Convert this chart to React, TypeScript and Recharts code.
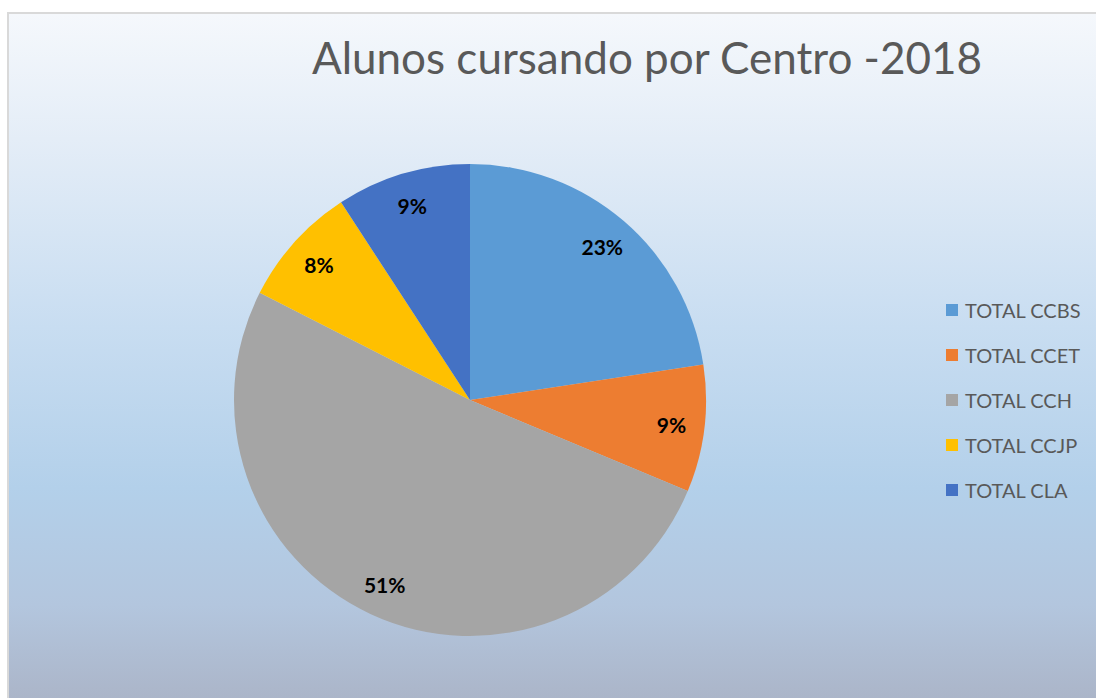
import React from "react";
import { PieChart, Pie, Cell, Legend } from "recharts";

const categories = ["TOTAL CCBS", "TOTAL CCET", "TOTAL CCH", "TOTAL CCJP", "TOTAL CLA"];
const values = [22.6, 8.7, 51.2, 8.3, 9.2];
const colors = ["#5B9BD5", "#ED7D31", "#A5A5A5", "#FFC000", "#4472C4"];
const title = "Alunos cursando por Centro -2018";

const data = categories.map((name, i) => ({ name, value: values[i] }));
const total = values.reduce((a, b) => a + b, 0);

const RAD = Math.PI / 180;

const renderLabel = (props: any) => {
  const { cx, cy, midAngle, outerRadius, value } = props;
  const r = outerRadius * 0.86;
  const x = cx + r * Math.cos(-midAngle * RAD);
  const y = cy + r * Math.sin(-midAngle * RAD);
  return (
    <text
      x={x}
      y={y}
      textAnchor="middle"
      dominantBaseline="central"
      fill="#000"
      fontFamily="Lato, 'Liberation Sans', sans-serif"
      fontWeight={700}
      fontSize={21}
    >
      {`${Math.round((value / total) * 100)}%`}
    </text>
  );
};

const renderLegend = (props: any) => {
  const { payload } = props;
  return (
    <div style={{ display: "flex", flexDirection: "column" }}>
      {payload.map((entry: any, i: number) => (
        <div
          key={i}
          style={{
            display: "flex",
            alignItems: "center",
            height: 45,
            fontFamily: "Lato, 'Liberation Sans', sans-serif",
            fontSize: 20,
            color: "#595959",
          }}
        >
          <span
            style={{
              display: "inline-block",
              width: 12,
              height: 12,
              background: entry.color,
              marginRight: 7,
            }}
          />
          <span>{entry.value}</span>
        </div>
      ))}
    </div>
  );
};

export default function App() {
  return (
    <div style={{ position: "absolute", left: 0, top: 0, width: 1096, height: 698, background: "#fff", overflow: "hidden" }}>
      <div
        style={{
          position: "absolute",
          left: 7,
          top: 12,
          width: 1100,
          height: 700,
          border: "2.5px solid #d9d9d9",
          boxSizing: "border-box",
          background:
            "linear-gradient(to bottom, #f5f8fc 0%, #e4edf7 18%, #c8ddf1 45%, #b3d0ea 68%, #b3c6de 85%, #aab3c6 100%)",
        }}
      />
      <div style={{ position: "absolute", left: 0, top: 0 }}>
        <PieChart width={1096} height={698} margin={{ top: 0, right: 0, bottom: 0, left: 0 }}>
          <text
            x={647}
            y={57}
            textAnchor="middle"
            dominantBaseline="central"
            fontFamily="Lato, 'Liberation Sans', sans-serif"
            fontSize={44}
            fill="#595959"
          >
            {title}
          </text>
          <Pie
            data={data}
            dataKey="value"
            nameKey="name"
            cx={470}
            cy={400}
            outerRadius={236}
            startAngle={90}
            endAngle={-270}
            stroke="none"
            label={renderLabel}
            labelLine={false}
            isAnimationActive={false}
          >
            {data.map((d, i) => (
              <Cell key={d.name} fill={colors[i]} />
            ))}
          </Pie>
          <Legend
            layout="vertical"
            align="right"
            verticalAlign="top"
            content={renderLegend}
            wrapperStyle={{ position: "absolute", left: 946, top: 287, width: 150 }}
          />
        </PieChart>
      </div>
    </div>
  );
}
